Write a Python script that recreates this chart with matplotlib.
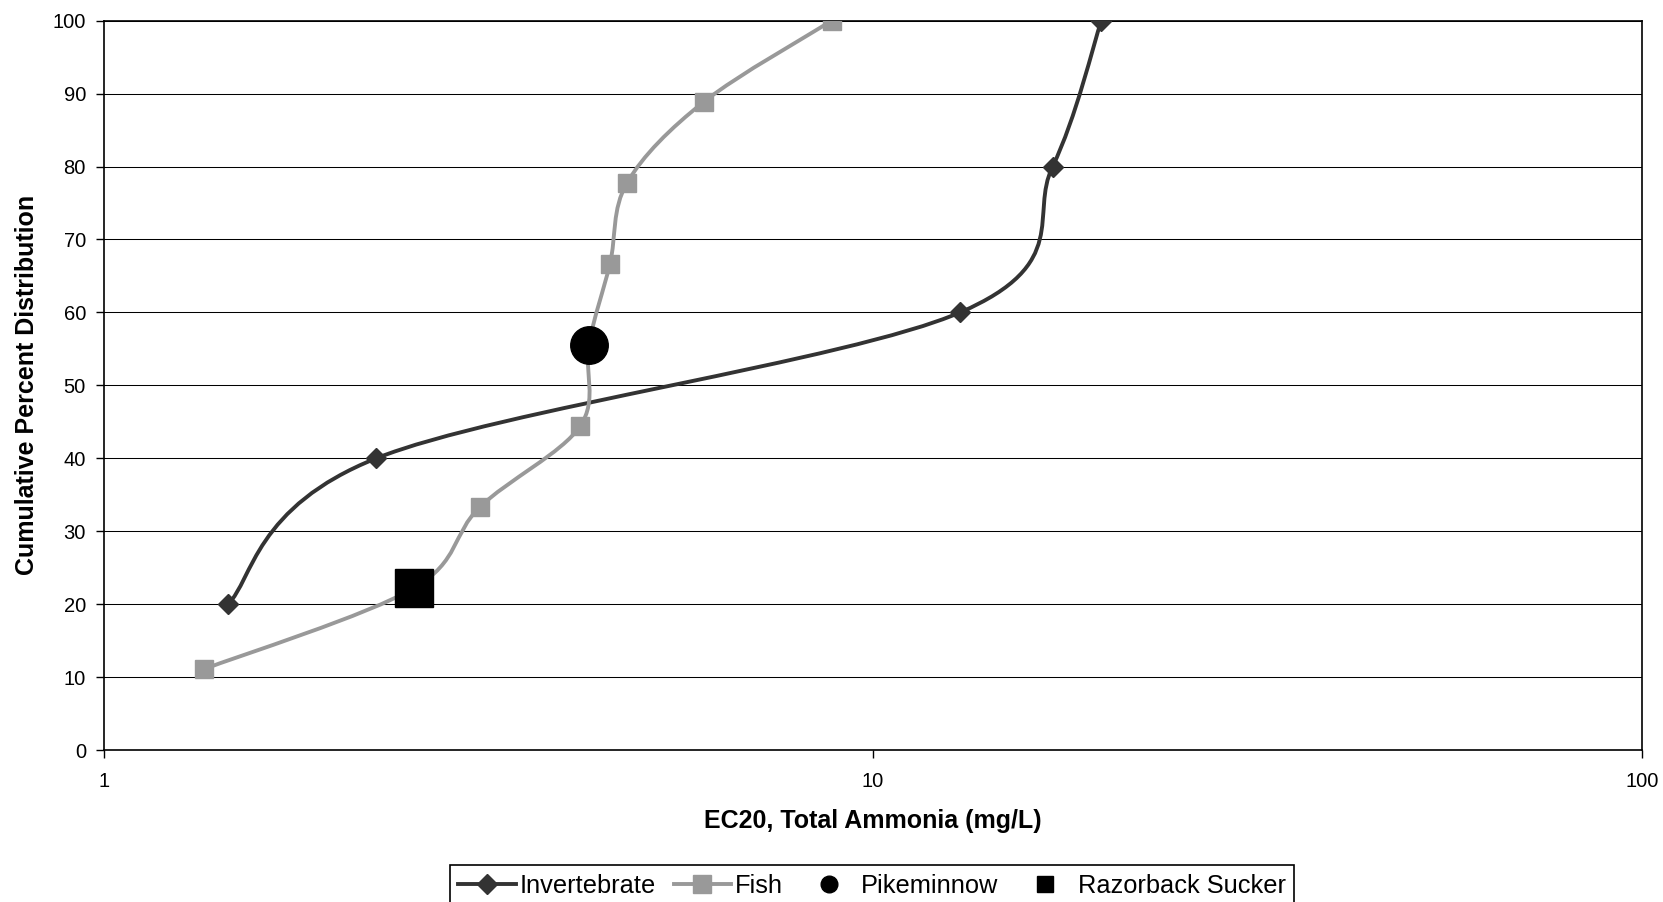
import numpy as np
import matplotlib
matplotlib.use("Agg")
import matplotlib.pyplot as plt
from matplotlib.path import Path
from matplotlib.patches import PathPatch
from matplotlib.lines import Line2D
from matplotlib.ticker import NullLocator

plt.rcParams['font.family'] = ['Liberation Sans', 'DejaVu Sans']

# data (EC20 mg/L, cumulative %)
invert_x = [1.45, 2.26, 12.98, 17.12, 19.81]
invert_y = [20, 40, 60, 80, 100]

fish_x = [1.35, 2.53, 3.08, 4.16, 4.27, 4.55, 4.79, 6.03, 8.84]
fish_y = [11.1, 22.2, 33.3, 44.4, 55.6, 66.7, 77.8, 88.9, 100]

pike_x, pike_y = [4.27], [55.6]
razor_x, razor_y = [2.53], [22.2]

x_ticks = [1, 10, 100]
y_ticks = list(range(0, 101, 10))

INV_COLOR = '#333333'
FISH_COLOR = '#999999'


def smooth_path(xs, ys):
    # excel-style smoothed line: catmull-rom bezier in log-x space
    pts = np.column_stack([np.log10(xs), np.asarray(ys, float)])
    ext = np.vstack([pts[0], pts, pts[-1]])
    verts = [pts[0]]
    codes = [Path.MOVETO]
    for i in range(len(pts) - 1):
        p0, p1, p2, p3 = ext[i], ext[i + 1], ext[i + 2], ext[i + 3]
        verts += [p1 + (p2 - p0) / 6, p2 - (p3 - p1) / 6, p2]
        codes += [Path.CURVE4] * 3
    verts = np.array(verts)
    verts[:, 0] = 10 ** verts[:, 0]
    return Path(verts, codes)


fig = plt.figure(figsize=(16.63, 9.02), dpi=100)
ax = fig.add_axes([104 / 1663, 1 - 750 / 902, 1538 / 1663, (750 - 20.7) / 902])

ax.set_xscale('log')
ax.set_xlim(1, 100)
ax.set_ylim(0, 100)

for y in y_ticks[1:]:
    ax.axhline(y, color='black', lw=0.75, zorder=1)

ax.add_patch(PathPatch(smooth_path(invert_x, invert_y), fill=False,
                       edgecolor=INV_COLOR, lw=2.8, zorder=3))
ax.plot(invert_x, invert_y, ls='none', marker='D', ms=10,
        color=INV_COLOR, zorder=4)

ax.add_patch(PathPatch(smooth_path(fish_x, fish_y), fill=False,
                       edgecolor=FISH_COLOR, lw=2.8, zorder=3))
ax.plot(fish_x, fish_y, ls='none', marker='s', ms=13.5,
        color=FISH_COLOR, zorder=4)

ax.plot(pike_x, pike_y, ls='none', marker='o', ms=27, color='black', zorder=5)
ax.plot(razor_x, razor_y, ls='none', marker='s', ms=27, color='black', zorder=5)

ax.set_xticks(x_ticks)
ax.set_xticklabels([str(v) for v in x_ticks])
ax.xaxis.set_minor_locator(NullLocator())
ax.set_yticks(y_ticks)
ax.tick_params(axis='both', labelsize=14.5, length=6, width=1, color='black',
               direction='out')
ax.tick_params(axis='y', pad=7)
ax.tick_params(axis='x', pad=10)

for s in ax.spines.values():
    s.set_linewidth(1.2)
    s.set_color('black')

ax.set_xlabel('EC20, Total Ammonia (mg/L)', fontsize=18, fontweight='bold')
ax.xaxis.label.set_va('center')
ax.xaxis.set_label_coords(0.5, -0.097)
ax.set_ylabel('Cumulative Percent Distribution', fontsize=18, fontweight='bold')
ax.yaxis.label.set_va('center')
ax.yaxis.set_label_coords(-0.05, 0.5)

handles = [
    Line2D([], [], color=INV_COLOR, lw=2.8, marker='D', ms=10),
    Line2D([], [], color=FISH_COLOR, lw=2.8, marker='s', ms=13.5),
    Line2D([], [], ls='none', color='black', marker='o', ms=12),
    Line2D([], [], ls='none', color='black', marker='s', ms=12),
]
labels = ['Invertebrate', 'Fish', 'Pikeminnow', 'Razorback Sucker']
leg = fig.legend(handles, labels, loc='upper center',
                 bbox_to_anchor=(872 / 1663, 1 - 865 / 902), ncol=4,
                 fontsize=18.3, frameon=True, fancybox=False, framealpha=1,
                 edgecolor='black', borderpad=0.35, handlelength=2.25,
                 handletextpad=0.15, columnspacing=0.7, borderaxespad=0)
leg.get_frame().set_linewidth(1.2)

fig.savefig('out.png', dpi=100)
